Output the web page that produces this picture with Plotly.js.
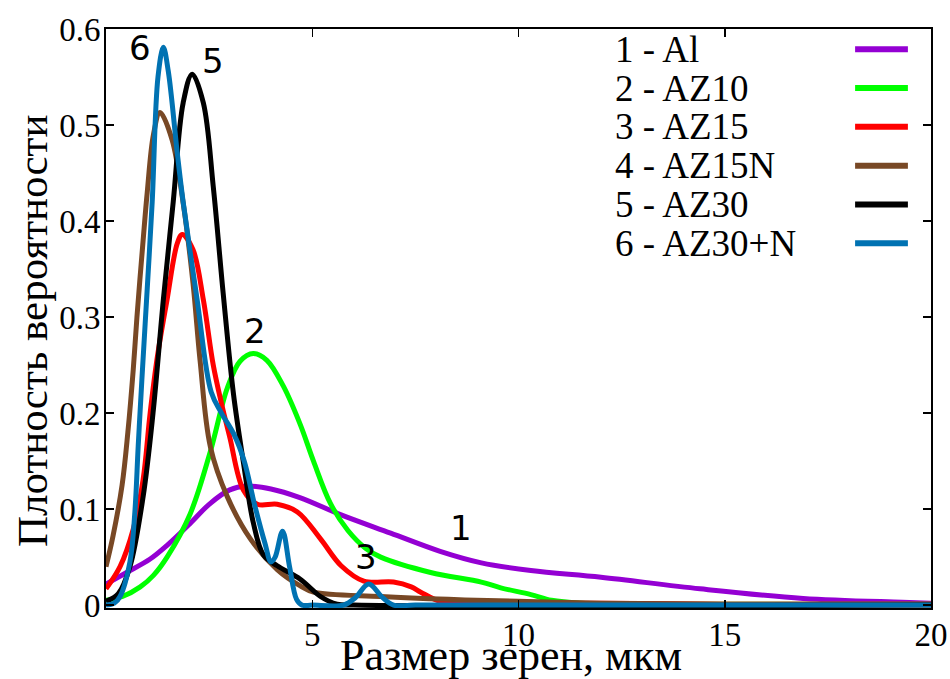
<!DOCTYPE html>
<html>
<head>
<meta charset="utf-8">
<script src="https://cdn.plot.ly/plotly-3.0.1.min.js"></script>
<style>html,body{margin:0;padding:0;background:#fff;}#chart{width:950px;height:679px;}</style>
</head>
<body>
<div id="chart"></div>
<script>
// ---- data ----
const seriesNames = ["1 - Al", "2 - AZ10", "3 - AZ15", "4 - AZ15N", "5 - AZ30", "6 - AZ30+N"];
const seriesColors = ["#9400D3", "#00FF00", "#FF0000", "#784825", "#000000", "#0072B2"];

const al_x = [0, 0.5, 1.07, 1.5, 2.04, 2.5, 3.0, 3.4, 4.0, 4.7, 5.7, 6.9, 8.1, 9.1, 10.3, 12.0, 14.4, 16.9, 19.3, 20];
const al_y = [0.022, 0.034, 0.048, 0.063, 0.085, 0.105, 0.12, 0.124, 0.121, 0.112, 0.094, 0.075, 0.056, 0.044, 0.036, 0.029, 0.017, 0.007, 0.003, 0.002];

const az10_x = [0, 0.4, 0.83, 1.15, 1.48, 2.04, 2.53, 2.94, 3.25, 3.57, 3.9, 4.3, 4.71, 5.03, 5.44, 5.86, 6.3, 6.66, 7.87, 9.1, 9.57, 10.3, 10.8, 11.5, 14, 20];
const az10_y = [0.005, 0.009, 0.019, 0.031, 0.05, 0.095, 0.16, 0.226, 0.254, 0.262, 0.255, 0.228, 0.188, 0.15, 0.106, 0.078, 0.059, 0.05, 0.034, 0.024, 0.018, 0.011, 0.005, 0.002, 0.001, 0.001];

const az15_x = [0, 0.34, 0.66, 0.9, 1.07, 1.25, 1.48, 1.73, 1.85, 2.11, 2.36, 2.6, 2.8, 3.0, 3.33, 3.67, 4.15, 4.64, 5.2, 5.7, 6.25, 6.97, 7.4, 7.63, 8.1, 9, 12, 15, 20];
const az15_y = [0.017, 0.04, 0.079, 0.131, 0.2, 0.26, 0.318, 0.377, 0.386, 0.37, 0.318, 0.25, 0.21, 0.175, 0.12, 0.105, 0.105, 0.097, 0.069, 0.041, 0.025, 0.024, 0.019, 0.0135, 0.004, 0.002, 0.002, 0.001, 0.001];

const az15n_x = [0, 0.17, 0.39, 0.53, 0.66, 0.75, 0.9, 1.0, 1.15, 1.31, 1.6, 1.87, 2.11, 2.28, 2.53, 2.94, 3.5, 4.15, 4.71, 5.03, 6.66, 8.3, 10, 12, 15, 20];
const az15n_y = [0.04, 0.072, 0.125, 0.18, 0.245, 0.3, 0.38, 0.43, 0.49, 0.513, 0.485, 0.419, 0.335, 0.255, 0.165, 0.113, 0.069, 0.037, 0.02, 0.0135, 0.009, 0.006, 0.004, 0.002, 0.001, 0.001];

const az30_x = [0, 0.3, 0.58, 0.9, 1.14, 1.39, 1.63, 1.87, 2.09, 2.36, 2.6, 2.84, 3.09, 3.33, 3.57, 3.82, 4.15, 4.71, 5.2, 5.6, 6, 20];
const az30_y = [0.004, 0.012, 0.04, 0.113, 0.2, 0.318, 0.42, 0.523, 0.553, 0.523, 0.436, 0.325, 0.22, 0.149, 0.086, 0.052, 0.041, 0.027, 0.009, 0.001, 0, 0];

const az30n_x = [0, 0.2, 0.34, 0.58, 0.7, 0.78, 0.87, 1.0, 1.12, 1.26, 1.39, 1.51, 1.73, 1.87, 2.21, 2.55, 2.8, 3.1, 3.35, 3.6, 3.85, 4.0, 4.1, 4.28, 4.45, 4.62, 4.75, 5.0, 5.76, 6.05, 6.37, 6.7, 6.97, 7.5, 20];
const az30n_y = [0, 0.002, 0.009, 0.045, 0.097, 0.165, 0.235, 0.33, 0.42, 0.55, 0.581, 0.556, 0.47, 0.42, 0.318, 0.222, 0.2, 0.178, 0.15, 0.105, 0.065, 0.045, 0.05, 0.077, 0.04, 0.006, 0, 0, 0, 0.008, 0.022, 0.008, 0, 0, 0];

const xTickVals = [5, 10, 15, 20];
const yTickVals = [0, 0.1, 0.2, 0.3, 0.4, 0.5, 0.6];
const yTickText = ["0", "0.1", "0.2", "0.3", "0.4", "0.5", "0.6"];

const xTitle = "Размер зерен, мкм";
const yTitle = "Плотность вероятности";

const curveLabels = ["1", "2", "3", "4", "5", "6"];
const curveLabelX = [8.6, 3.6, 6.3, -0.27, 2.6, 0.82];
const curveLabelY = [0.08, 0.285, 0.05, 0.35, 0.567, 0.58];

// ---- build traces ----
const xs = [al_x, az10_x, az15_x, az15n_x, az30_x, az30n_x];
const ys = [al_y, az10_y, az15_y, az15n_y, az30_y, az30n_y];
const traces = xs.map((x, i) => ({
  x: x, y: ys[i], type: 'scatter', mode: 'lines', name: seriesNames[i],
  line: {color: seriesColors[i], width: 5, shape: 'spline', smoothing: 1},
  showlegend: false, hoverinfo: 'x+y+name'
}));

const serif = "Liberation Serif";
const sans = "DejaVu Sans";

const annotations = curveLabels.map((t, i) => ({
  x: curveLabelX[i], y: curveLabelY[i], xref: 'x', yref: 'y', text: t,
  showarrow: false, font: {family: sans, size: 34, color: '#000'}
}));

// axis titles
annotations.push({x: 0.491, y: -0.082, xref: 'paper', yref: 'paper', text: xTitle,
  xanchor: 'center', yanchor: 'middle', showarrow: false,
  font: {family: serif, size: 44, color: '#000'}});
annotations.push({x: -0.09, y: 0.478, xref: 'paper', yref: 'paper', text: yTitle, textangle: -90,
  xanchor: 'center', yanchor: 'middle', showarrow: false,
  font: {family: serif, size: 43, color: '#000'}});

// legend: text on the left, sample line on the right
const legTop = 0.965, legStep = 0.067;
const shapes = [];
seriesNames.forEach((n, i) => {
  const yy = legTop - i * legStep;
  annotations.push({x: 0.6145, y: yy, xref: 'paper', yref: 'paper', text: n,
    xanchor: 'left', yanchor: 'middle', showarrow: false,
    font: {family: serif, size: 37, color: '#000'}});
  shapes.push({type: 'line', xref: 'paper', yref: 'paper', x0: 0.908, x1: 0.972, y0: yy, y1: yy,
    line: {color: seriesColors[i], width: 6}});
});

const layout = {
  width: 950, height: 679,
  margin: {l: 106, r: 19, t: 29, b: 71},
  paper_bgcolor: '#fff', plot_bgcolor: '#fff',
  font: {family: serif, size: 33, color: '#000'},
  showlegend: false,
  xaxis: {
    range: [0, 20], tickvals: xTickVals, ticks: 'inside', ticklen: 8, tickwidth: 1.5, tickcolor: '#000',
    showline: true, linecolor: '#000', linewidth: 2, mirror: 'ticks', showgrid: false, zeroline: false,
    ticklabelstandoff: -4
  },
  yaxis: {
    range: [-0.003, 0.6], tickvals: yTickVals, ticktext: yTickText, ticks: 'inside', ticklen: 8, tickwidth: 1.5, tickcolor: '#000',
    showline: true, linecolor: '#000', linewidth: 2, mirror: 'ticks', showgrid: false, zeroline: false,
    ticklabelstandoff: -3
  },
  annotations: annotations,
  shapes: shapes
};

Plotly.newPlot('chart', traces, layout, {displayModeBar: false, staticPlot: true});
</script>
</body>
</html>
